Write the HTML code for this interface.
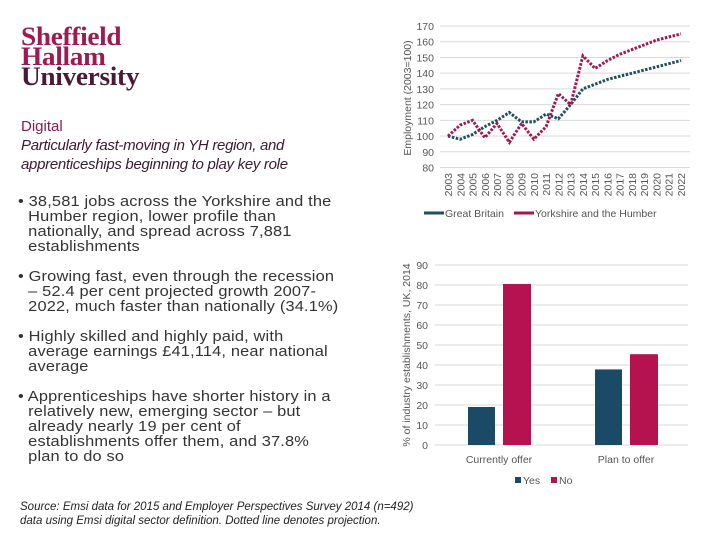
<!DOCTYPE html>
<html><head><meta charset="utf-8"><style>
body{margin:0;width:720px;height:540px;background:#fff;position:relative;overflow:hidden;font-family:"Liberation Sans",sans-serif}
.abs{position:absolute}
.logo{font-family:"Liberation Serif",serif;font-weight:bold;font-size:26px;line-height:20px;letter-spacing:-0.3px;transform:scaleX(1.05);transform-origin:0 0}
.bul{position:absolute;left:18px;font-size:14.5px;line-height:15px;color:#333;white-space:nowrap;letter-spacing:0.15px;transform:scaleX(1.13);transform-origin:0 0}
.bul span{display:block;padding-left:9px}
</style></head><body>
<div class="abs logo" style="left:21px;top:27px">
<div style="color:#9e1a50">Sheffield</div><div style="color:#9e1a50">Hallam</div><div style="color:#4a1a36">University</div></div>
<div class="abs" style="left:21px;top:118px;font-size:15px;color:#8b1a4a">Digital</div>
<div class="abs" style="left:21px;top:136px;font-size:15px;line-height:19px;font-style:italic;color:#3a1a30;letter-spacing:-0.3px">Particularly fast-moving in YH region, and<br>apprenticeships beginning to play key role</div>
<div class="bul" style="top:195px">• 38,581 jobs across the Yorkshire and the<span>Humber region, lower profile than</span><span>nationally, and spread across 7,881</span><span>establishments</span></div>
<div class="bul" style="top:270px">• Growing fast, even through the recession<span>– 52.4 per cent projected growth 2007-</span><span>2022, much faster than nationally (34.1%)</span></div>
<div class="bul" style="top:330px">• Highly skilled and highly paid, with<span>average earnings £41,114, near national</span><span>average</span></div>
<div class="bul" style="top:390px">• Apprenticeships have shorter history in a<span>relatively new, emerging sector – but</span><span>already nearly 19 per cent of</span><span>establishments offer them, and 37.8%</span><span>plan to do so</span></div>
<div class="abs" style="left:20px;top:500px;font-size:11.5px;line-height:14px;font-style:italic;color:#222">Source: Emsi data for 2015 and Employer Perspectives Survey 2014 (n=492)<br>data using Emsi digital sector definition. Dotted line denotes projection.</div>
<svg id="c" class="abs" style="left:0;top:0" width="720" height="540"></svg>
<script>
const years=["2003","2004","2005","2006","2007","2008","2009","2010","2011","2012","2013","2014","2015","2016","2017","2018","2019","2020","2021","2022"];
const gbValues=[100,98,101,106,110,115,109,109,114,111,120,130,133,136,138,140,142,144,146,148];
const yhValues=[100,107,110,99,108,96,108,98,106,127,120,151,143,148,152,155,158,161,163,165];
const lineTicks=[80,90,100,110,120,130,140,150,160,170];
const barCategories=["Currently offer","Plan to offer"];
const yesValues=[19,37.8];
const noValues=[80.5,45.4];
const barTicks=[0,10,20,30,40,50,60,70,80,90];
const svg=document.getElementById('c');const NS='http://www.w3.org/2000/svg';
function mk(t,a,p){const e=document.createElementNS(NS,t);for(const k in a)e.setAttribute(k,a[k]);(p||svg).appendChild(e);return e;}
const GB='#1f4e5f',YH='#a3174f',BY='#1b4a66',BN='#b5134f';
const lx=i=>448+i*(681-448)/(years.length-1);
const ly=v=>167.5-(v-80)*(167.5-26)/90;
lineTicks.forEach(t=>{
 const g=mk('line',{x1:440,x2:690,y1:ly(t),y2:ly(t),stroke:'#d9d9d9','stroke-width':1});
 
 
 const tx=mk('text',{x:434,y:ly(t)+4,'text-anchor':'end','font-size':10.5,fill:'#555'});tx.textContent=t;
 
 
});
years.forEach((y,i)=>{
 const tx=mk('text',{x:0,y:0,'font-size':10.5,fill:'#555',transform:`translate(${lx(i)+4},173) rotate(-90)`,'text-anchor':'end'});tx.textContent=y;
 
 
});
const yt=mk('text',{x:0,y:0,'font-size':10.5,fill:'#555','text-anchor':'middle',transform:'translate(411,98) rotate(-90)'});yt.textContent='Employment (2003=100)';


function series(vals,col,name){
 const p=mk('polyline',{points:vals.map((v,i)=>lx(i)+','+ly(v)).join(' '),fill:'none',stroke:col,'stroke-width':3,'stroke-dasharray':'2.5 1.5'});
 
 
}
series(gbValues,GB,'great-britain-line');
series(yhValues,YH,'yorkshire-humber-line');
[[424,GB,'Great Britain','legend-great-britain'],[514,YH,'Yorkshire and the Humber','legend-yorkshire-humber']].forEach(([x,c,t,n])=>{
 const g=mk('g',{});
 mk('line',{x1:x,x2:x+20,y1:213,y2:213,stroke:c,'stroke-width':3},g);
 const tx=mk('text',{x:x+21,y:217,'font-size':10.5,fill:'#555'},g);tx.textContent=t;
});
const by=v=>445-v*(445-265)/90;
const cx=i=>499+i*127;
barTicks.forEach(t=>{
 const g=mk('line',{x1:435,x2:688,y1:by(t),y2:by(t),stroke:'#d9d9d9','stroke-width':1});
 
 
 const tx=mk('text',{x:428,y:by(t)+4,'text-anchor':'end','font-size':10.5,fill:'#555'});tx.textContent=t;
 
 
});
const bt=mk('text',{x:0,y:0,'font-size':10.5,fill:'#555','text-anchor':'middle',transform:'translate(410,355) rotate(-90)'});bt.textContent='% of industry establishments, UK, 2014';


barCategories.forEach((c,i)=>{
 const r1=mk('rect',{x:cx(i)-31,y:by(yesValues[i]),width:27,height:by(0)-by(yesValues[i]),fill:BY});
 
 
 const r2=mk('rect',{x:cx(i)+4,y:by(noValues[i]),width:28,height:by(0)-by(noValues[i]),fill:BN});
 
 
 const tx=mk('text',{x:cx(i),y:463,'text-anchor':'middle','font-size':10.5,fill:'#555'});tx.textContent=c;
 
 
});
[[515,BY,'Yes','legend-yes'],[551,BN,'No','legend-no']].forEach(([x,c,t,n])=>{
 const g=mk('g',{});
 mk('rect',{x:x,y:477,width:6,height:6,fill:c},g);
 const tx=mk('text',{x:x+8,y:484,'font-size':10.5,fill:'#555'},g);tx.textContent=t;
});
</script>
</body></html>
